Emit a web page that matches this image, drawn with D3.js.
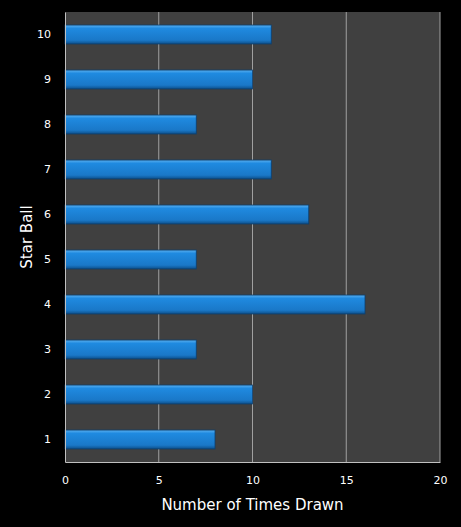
<!DOCTYPE html>
<html>
<head>
<meta charset="UTF-8">
<script src="https://d3js.org/d3.v7.min.js"></script>
<style>
  body { margin: 0; background: #000; }
  text { font-family: "DejaVu Sans", sans-serif; fill: #fff; }
</style>
</head>
<body>
<svg id="chart" width="461" height="527"></svg>
<script>
  // star ball numbers and how often each was drawn
  const balls = ["1", "2", "3", "4", "5", "6", "7", "8", "9", "10"];
  const timesDrawn = [8, 10, 7, 16, 7, 13, 11, 7, 10, 11];
  const xTicks = [0, 5, 10, 15, 20];

  const svg = d3.select("#chart");
  const m = { left: 65, top: 12, right: 21, bottom: 65 };
  const w = 461 - m.left - m.right, h = 527 - m.top - m.bottom;
  const g = svg.append("g").attr("transform", `translate(${m.left},${m.top})`);

  const x = d3.scaleLinear().domain([0, 20]).range([0, w]);
  const y = d3.scaleBand().domain(balls.slice().reverse()).range([0, h]).paddingInner(0.58).paddingOuter(0.29);

  const defs = svg.append("defs");
  const grad = defs.append("linearGradient").attr("id", "bar").attr("x1", 0).attr("y1", 0).attr("x2", 0).attr("y2", 1);
  grad.append("stop").attr("offset", "0%").attr("stop-color", "#5ab0f0");
  grad.append("stop").attr("offset", "18%").attr("stop-color", "#1f8ae0");
  grad.append("stop").attr("offset", "80%").attr("stop-color", "#1a78c8");
  grad.append("stop").attr("offset", "100%").attr("stop-color", "#0d4f8a");

  g.append("rect").attr("width", w).attr("height", h).attr("fill", "#404040");

  // vertical grid
  g.selectAll(".grid").data(xTicks.slice(1)).enter().append("line")
    .attr("x1", d => x(d)).attr("x2", d => x(d))
    .attr("y1", 0).attr("y2", h)
    .attr("stroke", "#a0a0a0").attr("stroke-width", 1);

  // bars
  g.selectAll(".bar").data(balls).enter().append("rect")
    .attr("x", 0)
    .attr("y", d => y(d))
    .attr("width", (d, i) => x(timesDrawn[i]))
    .attr("height", y.bandwidth())
    .attr("fill", "url(#bar)")
    .attr("stroke", "#0b3f70").attr("stroke-width", 0.8);

  // axes
  const xAxis = g.append("g").attr("transform", `translate(0,${h})`)
    .call(d3.axisBottom(x).tickValues(xTicks).tickSize(0).tickPadding(14));
  const yAxis = g.append("g").call(d3.axisLeft(y).tickSize(0).tickPadding(14));
  [xAxis, yAxis].forEach(a => {
    a.select(".domain").attr("stroke", "#c0c0c0");
    a.selectAll("text").style("font-size", "11px").attr("fill", "#fff");
  });

  svg.append("text").attr("x", m.left + w / 2).attr("y", 510)
    .attr("text-anchor", "middle").style("font-size", "15px").text("Number of Times Drawn");
  svg.append("text").attr("transform", `translate(32,${m.top + h / 2}) rotate(-90)`)
    .attr("text-anchor", "middle").style("font-size", "15px").text("Star Ball");
</script>
</body>
</html>
